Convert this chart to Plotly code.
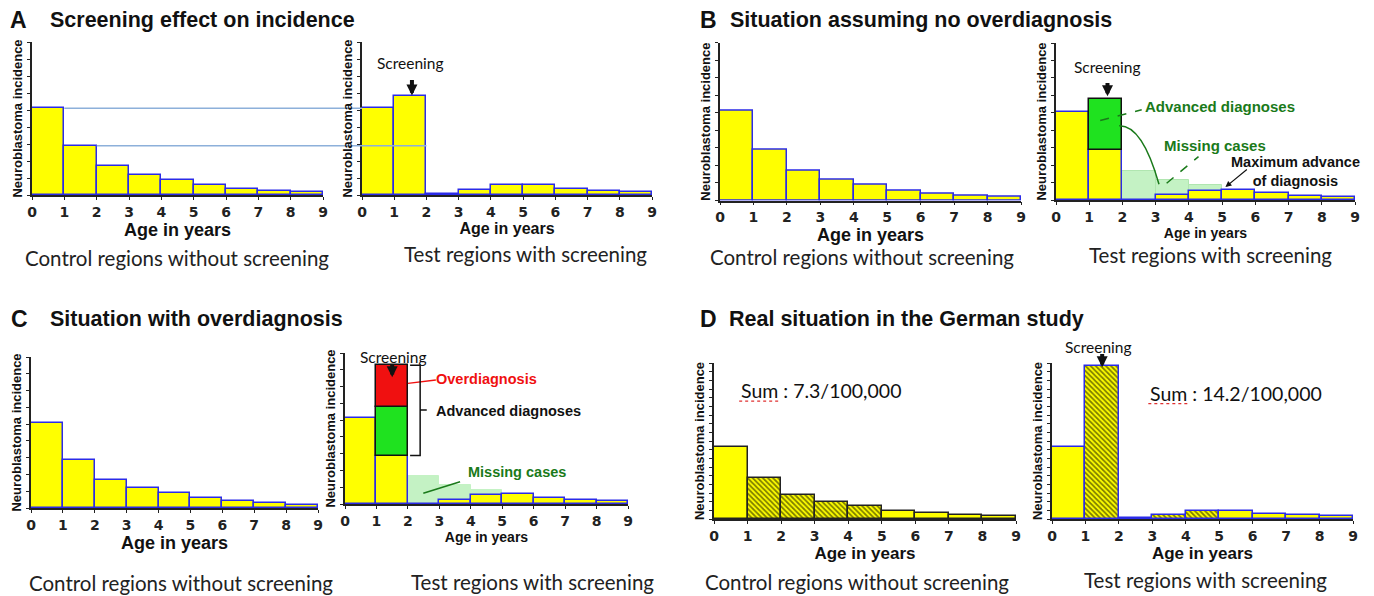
import plotly.graph_objects as go

# window is 1374x596; page body has an 8px margin, so the figure is drawn 8px in
OFF = 8
FW, FH = 1366, 588

# ---------------- data ----------------
age_start = [0, 1, 2, 3, 4, 5, 6, 7, 8]
age_ticks = [0, 1, 2, 3, 4, 5, 6, 7, 8, 9]

control_A = [5.1, 2.9, 1.7, 1.2, 0.87, 0.58, 0.37, 0.25, 0.17]
test_A = [5.1, 5.8, 0.04, 0.27, 0.56, 0.6, 0.37, 0.25, 0.17]

control_B = [5.1, 2.88, 1.71, 1.18, 0.89, 0.57, 0.38, 0.27, 0.19]
test_B = [5.04, 2.87, 0.02, 0.27, 0.52, 0.57, 0.38, 0.25, 0.17]
advanced_B = [0, 2.92, 0, 0, 0, 0, 0, 0, 0]
missing_B = [0, 0, 1.65, 1.15, 0.88, 0, 0, 0, 0]

control_C = [5.07, 2.88, 1.69, 1.19, 0.89, 0.6, 0.4, 0.3, 0.18]
test_C = [5.1, 2.89, 0.02, 0.24, 0.52, 0.6, 0.36, 0.26, 0.18]
advanced_C = [0, 2.87, 0, 0, 0, 0, 0, 0, 0]
overdiag_C = [0, 2.51, 0, 0, 0, 0, 0, 0, 0]
missing_C = [0, 0, 1.67, 1.14, 0.84, 0, 0, 0, 0]

control_D = [4.18, 2.36, 1.4, 0.98, 0.73, 0.48, 0.33, 0.23, 0.15]
test_D = [4.13, 8.8, 0.04, 0.23, 0.44, 0.48, 0.31, 0.23, 0.15]
hatched_D_control = [False, True, True, True, True, False, False, False, False]
hatched_D_test = [False, True, False, True, True, False, False, False, False]

sum_D_control = "Sum : 7.3/100,000"
sum_D_test = "Sum : 14.2/100,000"

# ---------------- layout helpers ----------------
# target pixel boxes in the window: (x at age 0, x at age 9, y baseline, y top)
panels = {
    1: (32, 323, 195, 42),
    2: (362, 652, 195, 42),
    3: (720, 1021, 200.5, 42.7),
    4: (1056, 1355, 200, 43),
    5: (31, 318, 508, 357),
    6: (345, 628, 504, 353),
    7: (714, 1016, 519, 363),
    8: (1052, 1353, 519, 363),
}
xtitle_size = {1: 18, 2: 16, 3: 18, 4: 14, 5: 18, 6: 14, 7: 17, 8: 17}
YEL = "#FFFF00"
BLUE = "#2B2BE8"
LGREEN = "#C4F2C4"
GREEN = "#1FE21F"
RED = "#F01010"
DKGREEN = "#1A7A1A"
AX = "#222222"


def px_x(r):
    return (r - OFF) / FW


def px_y(r):
    return 1 - (r - OFF) / FH


mid = [a + 0.5 for a in age_start]

fig = go.Figure()


def ax_names(i):
    return ("x" if i == 1 else f"x{i}"), ("y" if i == 1 else f"y{i}")


def add_bars(i, values, color=YEL, line=BLUE, base=None, patterns=None, lw=1.5):
    xa, ya = ax_names(i)
    keep = [k for k, v in enumerate(values) if v > 0]
    xs = [mid[k] for k in keep]
    ys = [values[k] for k in keep]
    bs = None if base is None else [base[k] for k in keep]
    marker = dict(color=color, line=dict(color=line, width=lw))
    if patterns is not None:
        marker["pattern"] = dict(shape=["\\" if patterns[k] else "" for k in keep],
                                 fgcolor="#000000", bgcolor=YEL, size=3.6, solidity=0.5)
    fig.add_trace(go.Bar(x=xs, y=ys, base=bs, width=1, marker=marker,
                         xaxis=xa, yaxis=ya, showlegend=False, hoverinfo="skip"))


# Panel A
add_bars(1, control_A)
add_bars(2, test_A)
# Panel B
add_bars(3, control_B)
add_bars(4, missing_B, color=LGREEN, line="#B0E6B0", lw=1)
add_bars(4, test_B)
add_bars(4, advanced_B, color=GREEN, line="#111111", base=test_B)
# Panel C
add_bars(5, control_C)
add_bars(6, missing_C, color=LGREEN, line=LGREEN, lw=1)
add_bars(6, test_C)
add_bars(6, advanced_C, color=GREEN, line="#111111", base=test_C)
base_red = [t + a for t, a in zip(test_C, advanced_C)]
add_bars(6, overdiag_C, color=RED, line="#111111", base=base_red)
# Panel D
add_bars(7, control_D, line="#222222", patterns=hatched_D_control)
add_bars(8, test_D, line=BLUE, patterns=hatched_D_test)

layout = dict(width=FW, height=FH, margin=dict(l=0, r=0, t=0, b=0, autoexpand=False),
              paper_bgcolor="white", plot_bgcolor="white", barmode="overlay",
              bargap=0, font=dict(family="Liberation Sans, Arial", color="#111"))

for i, (x0, x1, yb, yt) in panels.items():
    xk = "xaxis" if i == 1 else f"xaxis{i}"
    yk = "yaxis" if i == 1 else f"yaxis{i}"
    xa, ya = ax_names(i)
    layout[xk] = dict(domain=[px_x(x0), px_x(x1)], anchor=ya, range=[0, 9], automargin=False,
                      tickvals=age_ticks, ticks="outside", ticklen=3, tickcolor=AX,
                      showline=True, linecolor=AX, linewidth=1.5, showgrid=False,
                      zeroline=False, fixedrange=True,
                      tickfont=dict(family="DejaVu Sans", size=14, color="#222", weight="bold"),
                      title=dict(text="Age in years", standoff=1,
                                 font=dict(family="Liberation Sans, Arial", size=xtitle_size[i],
                                           color="#111", weight="bold")))
    layout[yk] = dict(domain=[px_y(yb), px_y(yt)], anchor=xa, range=[0, 9], automargin=False,
                      dtick=(0.5 if i >= 7 else 1), ticks="outside", ticklen=3, tickcolor=AX,
                      showticklabels=False, showline=True, linecolor=AX, linewidth=1.5,
                      showgrid=False, zeroline=False, fixedrange=True,
                      title=dict(text="Neuroblastoma incidence", standoff=2,
                                 font=dict(family="Liberation Sans, Arial", size=13,
                                           color="#111", weight="bold")))

annotations = []
shapes = []


def paper_text(text, x, y, size, family="Liberation Sans, Arial", bold=True,
               xanchor="left", color="#111"):
    annotations.append(dict(text=text, x=px_x(x), y=px_y(y), xref="paper", yref="paper",
                            xanchor=xanchor, yanchor="middle", showarrow=False,
                            font=dict(family=family, size=size, color=color,
                                      weight=("bold" if bold else "normal"))))


# panel titles
for letter, title, lx, tx, ty in [("A", "Screening effect on incidence", 8, 48, 20),
                                  ("B", "Situation assuming no overdiagnosis", 698, 728, 20),
                                  ("C", "Situation with overdiagnosis", 9, 48, 319),
                                  ("D", "Real situation in the German study", 698, 727, 319)]:
    paper_text(letter, lx, ty, 23)
    paper_text(title, tx, ty, 21.5)

# subtitles
for text, cx, cy in [("Control regions without screening", 177, 258),
                     ("Test regions with screening", 525, 254),
                     ("Control regions without screening", 862, 257),
                     ("Test regions with screening", 1210, 255),
                     ("Control regions without screening", 181, 583),
                     ("Test regions with screening", 532, 582),
                     ("Control regions without screening", 857, 582),
                     ("Test regions with screening", 1205, 580)]:
    paper_text(text, cx, cy, 20.5, family="Lato", bold=False, xanchor="center", color="#222")


def data_to_paper(i, x, y):
    x0, x1, yb, yt = panels[i]
    return px_x(x0 + (x1 - x0) * x / 9), px_y(yb - (yb - yt) * y / 9)


def data_text(i, text, x, y, size, color="#111", bold=True, family="Liberation Sans, Arial",
              xanchor="center"):
    px, py = data_to_paper(i, x, y)
    annotations.append(dict(text=text, x=px, y=py, xref="paper", yref="paper", showarrow=False,
                            xanchor=xanchor, yanchor="middle",
                            font=dict(family=family, size=size, color=color,
                                      weight=("bold" if bold else "normal"))))


def data_arrow(i, x, y, ax, ay, width=4, size=0.55, head=2, color="#111"):
    xa, ya = ax_names(i)
    annotations.append(dict(text="", x=x, y=y, ax=ax, ay=ay, xref=xa, yref=ya,
                            axref=xa, ayref=ya, showarrow=True, arrowhead=head,
                            arrowsize=size, arrowwidth=width, arrowcolor=color))


def data_line(i, x0, y0, x1, y1, color, width=1.5, dash="solid"):
    xa, ya = ax_names(i)
    shapes.append(dict(type="line", x0=x0, y0=y0, x1=x1, y1=y1, xref=xa, yref=ya,
                       line=dict(color=color, width=width, dash=dash)))


def data_path(i, path, color, width=1.5):
    xa, ya = ax_names(i)
    shapes.append(dict(type="path", path=path, xref=xa, yref=ya,
                       line=dict(color=color, width=width)))


# Panel A: reference lines across the two charts
def paper_x(i, v):
    return data_to_paper(i, v, 0)[0]

shapes.append(dict(type="line", xref="paper", yref="y", x0=paper_x(1, 1), x1=paper_x(2, 0),
                   y0=control_A[0], y1=control_A[0], line=dict(color="#8DB0DA", width=1.5)))
shapes.append(dict(type="line", xref="paper", yref="y", x0=paper_x(1, 2), x1=paper_x(2, 2),
                   y0=control_A[1], y1=control_A[1], line=dict(color="#8DB0DA", width=1.5)))

# Screening labels & arrows
data_text(2, "Screening", 1.5, 7.75, 15.5, family="Lato", bold=False)
data_arrow(2, 1.55, 5.85, 1.55, 6.85)
data_text(4, "Screening", 1.55, 7.6, 15.5, family="Lato", bold=False)
data_arrow(4, 1.55, 5.95, 1.55, 6.8)
data_text(6, "Screening", 1.55, 8.78, 15.5, family="Lato", bold=False)
data_arrow(6, 1.5, 7.55, 1.5, 8.4)
data_text(8, "Screening", 1.4, 9.95, 15.5, family="Lato", bold=False)
data_arrow(8, 1.5, 8.75, 1.5, 9.6)

# Panel B annotations
data_text(4, "Advanced diagnoses", 4.95, 5.34, 15, color=DKGREEN)
data_line(4, 1.33, 4.56, 2.58, 5.17, DKGREEN, dash="dash")
data_path(4, "M 1.9,4.26 Q 2.6,4.3 3.1,0.9", DKGREEN)
data_text(4, "Missing cases", 4.8, 3.12, 15, color=DKGREEN)
data_line(4, 3.33, 0.96, 4.29, 2.49, DKGREEN, dash="dash")
data_text(4, "Maximum advance<br>of diagnosis", 7.2, 1.62, 14.5)
data_arrow(4, 5.1, 0.74, 5.79, 1.82, width=1.2, size=1, head=2)

# Panel C annotations
data_text(6, "Overdiagnosis", 4.5, 7.45, 14.5, color=RED)
data_line(6, 2.0, 7.19, 2.89, 7.39, RED)
data_path(6, "M 2.07,8.27 L 2.39,8.27 L 2.39,2.89 L 2.07,2.89 M 2.39,5.6 L 2.6,5.6", "#111")
data_text(6, "Advanced diagnoses", 2.83, 5.56, 14.5, xanchor="left")
data_text(6, "Missing cases", 5.46, 1.93, 14.5, color=DKGREEN)
data_line(6, 2.49, 0.64, 3.66, 1.33, DKGREEN)

# Panel D sums (with the spell-check underline under "Sum")
data_text(7, sum_D_control, 0.75, 7.4, 19.5, family="Lato", bold=False, xanchor="left")
data_text(8, sum_D_test, 2.88, 7.25, 19.5, family="Lato", bold=False, xanchor="left")
data_line(7, 0.75, 6.8, 1.93, 6.8, "#E03030", width=1.2, dash="dot")
data_line(8, 2.88, 6.66, 4.06, 6.66, "#E03030", width=1.2, dash="dot")

layout["annotations"] = annotations
layout["shapes"] = shapes
fig.update_layout(**layout)
fig.write_html("out.html")
